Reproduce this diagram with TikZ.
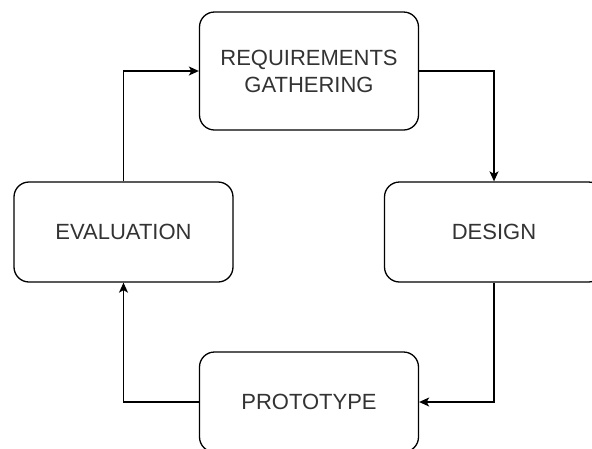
\documentclass[tikz,border=0pt]{standalone}
\usepackage{fontspec}
\setmainfont{Liberation Sans}
\usetikzlibrary{arrows.meta}

\begin{document}
\begin{tikzpicture}
  [x=1pt,y=-1pt,->,>={Stealth[length=10pt,width=9pt,inset=2.5pt]},line width=1.3pt,
	main node/.style={rectangle,rounded corners=15pt,fill=white,draw,
  text=black!80,font=\fontsize{22}{27}\selectfont,align=center,
  minimum width=219pt,minimum height=100pt}]
  \useasboundingbox (0,0) rectangle (592,448);
  \clip (0,0) rectangle (592,448);

  \node[main node,minimum height=118pt] (req) at (309,71) {REQUIREMENTS\\GATHERING};
  \node[main node] (design) at (494,232) {DESIGN};
  \node[main node] (proto) at (309,402) {PROTOTYPE};
  \node[main node] (eval) at (123.5,232) {EVALUATION};

  \draw (req) -| (design);
  \draw (design) |- (proto);
  \draw (proto) -| (eval);
  \draw (eval) |- (req);
\end{tikzpicture}
\end{document}
